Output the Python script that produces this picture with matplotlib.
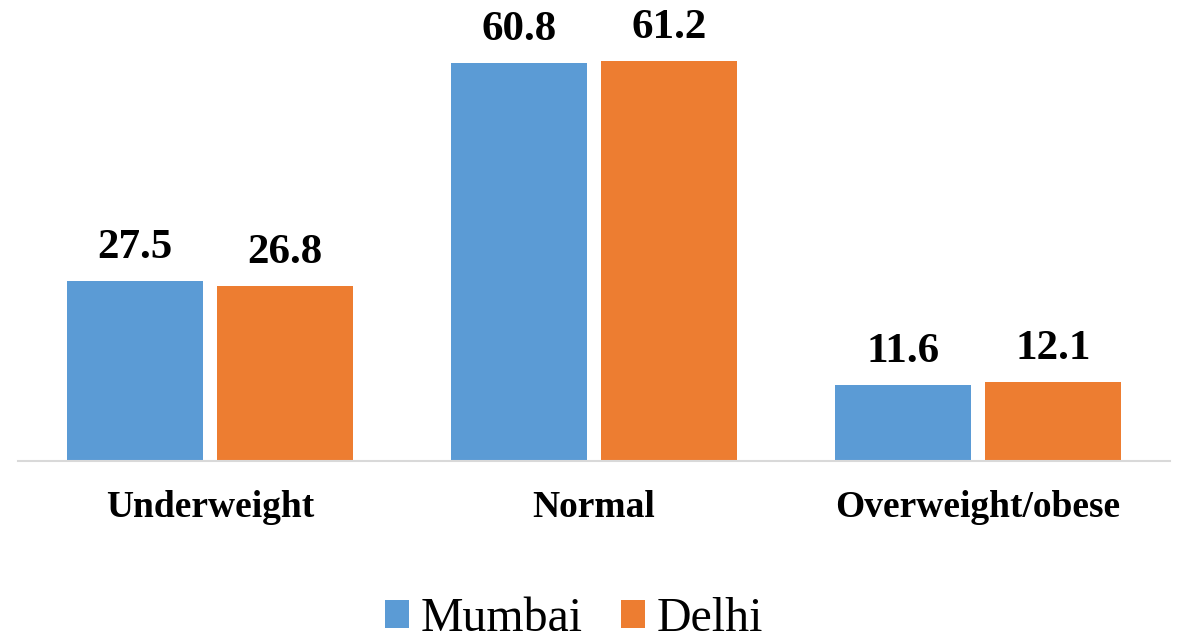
import matplotlib
matplotlib.use("Agg")
import matplotlib.pyplot as plt
from matplotlib.patches import Patch
import numpy as np

categories = ["Underweight", "Normal", "Overweight/obese"]
series_names = ["Mumbai", "Delhi"]
mumbai = [27.5, 60.8, 11.6]
delhi = [26.8, 61.2, 12.1]
colors = ["#5B9BD5", "#ED7D31"]

plt.rcParams["font.family"] = ["Liberation Serif", "DejaVu Serif"]

W, H = 1177, 642
fig = plt.figure(figsize=(W / 100, H / 100), dpi=100)
ax = fig.add_axes([18 / W, 1 - 461 / H, 1152 / W, 458 / H])

x = np.arange(len(categories))
width = 0.352
gap = 0.039
offsets = [-(width + gap) / 2, (width + gap) / 2]

for vals, off, col in zip([mumbai, delhi], offsets, colors):
    bars = ax.bar(x + off, vals, width, color=col, zorder=2)
    for b, v in zip(bars, vals):
        ax.annotate(f"{v:.1f}", (b.get_x() + b.get_width() / 2, v),
                    xytext=(0, 10), textcoords="offset points",
                    ha="center", va="bottom", fontsize=31, fontweight="bold")

ax.set_xlim(-0.5, 2.5)
ax.set_ylim(0, 70)
ax.set_yticks([])
ax.set_xticks(x)
ax.set_xticklabels(categories, fontsize=27, fontweight="bold")
ax.tick_params(axis="x", length=0, pad=21)
for s in ["top", "right", "left"]:
    ax.spines[s].set_visible(False)
ax.spines["bottom"].set_color("#D9D9D9")
ax.spines["bottom"].set_linewidth(1.5)

handles = [Patch(facecolor=c, label=n) for c, n in zip(colors, series_names)]
fig.legend(handles=handles, loc="center", bbox_to_anchor=(574 / W, 1 - 619 / H),
           ncol=2, frameon=False, fontsize=34.5, handlelength=0.5, handleheight=0.5,
           handletextpad=0.25, columnspacing=0.8, borderpad=0)

fig.savefig("out.png", dpi=100)
